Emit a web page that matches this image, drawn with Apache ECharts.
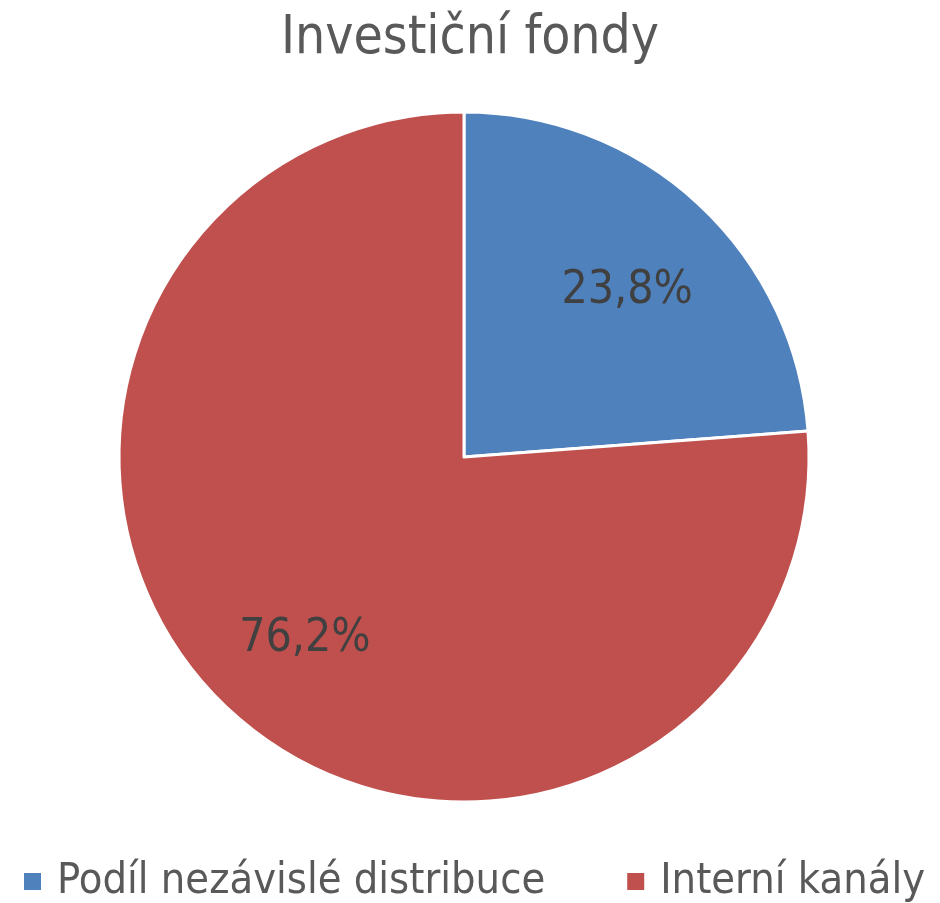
<!DOCTYPE html>
<html>
<head>
<meta charset="utf-8">
<script src="https://cdn.jsdelivr.net/npm/echarts@6/dist/echarts.min.js"></script>
<style>
  html, body { margin: 0; padding: 0; background: #fff; }
  #chart { width: 940px; height: 903px; }
</style>
</head>
<body>
<div id="chart"></div>
<script>
// data
var categories = ['Podíl nezávislé distribuce', 'Interní kanály'];
var shares = [23.8, 76.2];
var colors = ['#4F81BD', '#C0504D'];

var fontName = 'DejaVu Sans Condensed, DejaVu Sans, sans-serif';

var pieData = categories.map(function (name, i) {
    return { name: name, value: shares[i], itemStyle: { color: colors[i] } };
});

var myChart = echarts.init(document.getElementById('chart'));

var option = {
    animation: false,
    title: {
        text: 'Investiční fondy',
        left: 'center',
        top: 8,
        textStyle: { fontFamily: fontName, fontSize: 53, fontWeight: 'normal', color: '#595959' }
    },
    legend: {
        data: categories,
        bottom: 0,
        left: 22,
        width: 918,
        padding: 0,
        icon: 'rect',
        itemWidth: 19,
        itemHeight: 19,
        itemGap: 80,
        textStyle: { fontFamily: fontName, fontSize: 43, color: '#595959', padding: [0, 0, 0, 10] }
    },
    series: [
        {
            type: 'pie',
            center: [464, 457],
            radius: [0, 345],
            startAngle: 90,
            clockwise: true,
            data: pieData,
            itemStyle: { borderColor: '#fff', borderWidth: 3 },
            label: { show: false },
            labelLine: { show: false },
            silent: true
        },
        {
            // helper ring only for label placement (labels sit further out than the slice middle)
            type: 'pie',
            center: [466, 465],
            radius: [0, 468],
            startAngle: 90,
            clockwise: true,
            data: pieData.map(function (d) {
                return { name: d.name, value: d.value, itemStyle: { color: 'rgba(0,0,0,0)' } };
            }),
            label: {
                show: true,
                position: 'inside',
                formatter: function (p) { return p.value.toFixed(1).replace('.', ',') + '%'; },
                fontFamily: fontName,
                fontSize: 46,
                color: '#404040'
            },
            labelLine: { show: false },
            silent: true,
            z: 3
        }
    ]
};

myChart.setOption(option);
</script>
</body>
</html>
